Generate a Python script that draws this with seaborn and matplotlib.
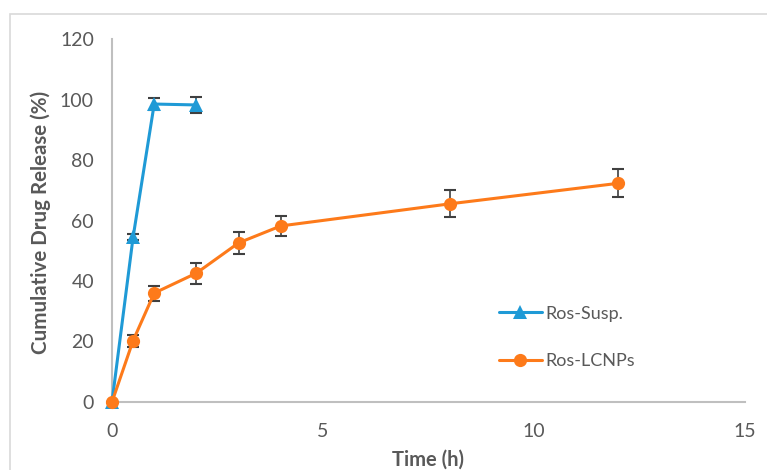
import matplotlib
matplotlib.use("Agg")
import matplotlib.pyplot as plt
import seaborn as sns
import pandas as pd
from matplotlib.patches import Rectangle

susp_t = [0, 0.5, 1, 2]
susp_y = [0, 54.5, 98.5, 98.2]
susp_err = [0, 1.0, 2.0, 2.5]

lcnp_t = [0, 0.5, 1, 2, 3, 4, 8, 12]
lcnp_y = [0, 20.3, 36.0, 42.6, 52.6, 58.2, 65.5, 72.3]
lcnp_err = [0, 2.0, 2.5, 3.5, 3.6, 3.3, 4.5, 4.6]

series_names = ["Ros-Susp.", "Ros-LCNPs"]
xticks = [0, 5, 10, 15]
yticks = [0, 20, 40, 60, 80, 100, 120]

sns.set_theme(style="white")
plt.rcParams['font.family'] = ['Lato', 'DejaVu Sans']

blue = "#1f9ad6"
orange = "#fd7a1a"
gray_txt = "#595959"
err_col = "#404040"

df = pd.concat([
    pd.DataFrame({"t": susp_t, "y": susp_y, "s": series_names[0]}),
    pd.DataFrame({"t": lcnp_t, "y": lcnp_y, "s": series_names[1]}),
])

fig = plt.figure(figsize=(7.67, 4.70), dpi=100)
ax = fig.add_axes([112 / 767, 68 / 470, 633 / 767, 363 / 470])

ax.errorbar(susp_t, susp_y, yerr=susp_err, fmt="none", ecolor=err_col,
            elinewidth=1.2, capsize=4, capthick=1.5, zorder=1)
ax.errorbar(lcnp_t, lcnp_y, yerr=lcnp_err, fmt="none", ecolor=err_col,
            elinewidth=1.2, capsize=4, capthick=1.5, zorder=1)

sns.lineplot(data=df, x="t", y="y", hue="s", style="s",
             markers={series_names[0]: "^", series_names[1]: "o"},
             dashes=False, palette={series_names[0]: blue, series_names[1]: orange},
             linewidth=2.2, markersize=9.5, markeredgewidth=0, ax=ax,
             estimator=None, sort=False, zorder=3)

ax.set_xlim(0, 15)
ax.set_ylim(0, 120)
ax.set_xticks(xticks)
ax.set_yticks(yticks)
ax.tick_params(axis="both", labelsize=14, labelcolor=gray_txt, length=0)
ax.tick_params(axis="y", pad=13)
ax.tick_params(axis="x", pad=15)
ax.set_xlabel("Time (h)", fontsize=14.5, fontweight="bold", color=gray_txt, labelpad=7)
ax.set_ylabel("Cumulative Drug Release (%)", fontsize=14.8, fontweight="bold",
              color=gray_txt)
ax.yaxis.set_label_coords(-0.097, 0.495)
for s in ["top", "right"]:
    ax.spines[s].set_visible(False)
for s in ["left", "bottom"]:
    ax.spines[s].set_color("#bfbfbf")
    ax.spines[s].set_linewidth(1.5)
for l in ax.lines:
    l.set_clip_on(False)
for c in ax.collections:
    c.set_clip_on(False)

handles, labels = ax.get_legend_handles_labels()
leg = ax.legend(handles, labels, loc="upper left", bbox_to_anchor=(0.585, 0.31),
                frameon=False, fontsize=13, labelspacing=1.75, handlelength=2.4,
                handletextpad=0.2)
for t in leg.get_texts():
    t.set_color(gray_txt)

fig.patches.append(Rectangle((10 / 767, -0.01), 1.0, 1 - 14 / 470 + 0.01,
                             transform=fig.transFigure, fill=False,
                             edgecolor="#d9d9d9", linewidth=1.2, zorder=0))

fig.savefig("out.png", dpi=100)
